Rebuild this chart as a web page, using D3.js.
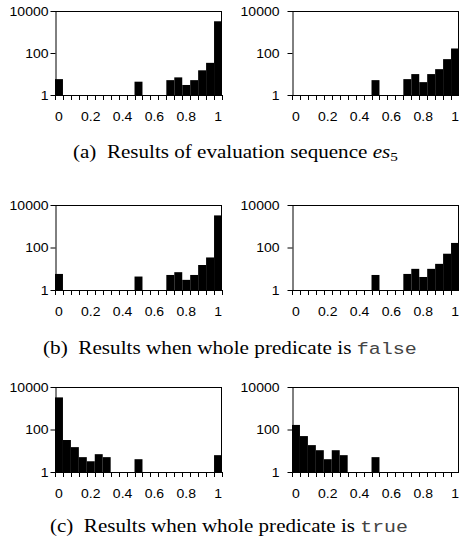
<!DOCTYPE html>
<html lang="en">

<head>
    <meta charset="UTF-8">
    <title>Histograms</title>
    <script src="https://d3js.org/d3.v7.min.js"></script>
</head>
<style>
    body {
        margin: 0;
        background: #fff;
    }

    .tick text {
        font-family: "Liberation Sans", Arial, sans-serif;
        font-size: 12.5px;
        fill: #000;
    }
</style>

<body>
    <svg width="459" height="544"></svg>
    <script>
        // bins of the histograms (0, 0.05, ... 1)
        var bins = d3.range(21).map(function (i) { return i * 0.05; });
        var xLabels = [0, 0.2, 0.4, 0.6, 0.8, 1];
        var yTicks = [1, 100, 10000];

        // counts per bin (0 = nothing drawn)
        var es5Left = [5.7, 0, 0, 0, 0, 0, 0, 0, 0, 0, 4.3, 0, 0, 0, 5.1, 6.9, 3, 5.1, 15, 34, 3240];
        var es5Right = [0, 0, 0, 0, 0, 0, 0, 0, 0, 0, 5.1, 0, 0, 0, 5.7, 9.9, 4.1, 9.9, 17, 51, 164];
        var falseLeft = [5.7, 0, 0, 0, 0, 0, 0, 0, 0, 0, 4.3, 0, 0, 0, 5.1, 6.9, 3, 5.1, 15, 34, 3240];
        var falseRight = [0, 0, 0, 0, 0, 0, 0, 0, 0, 0, 5.1, 0, 0, 0, 5.7, 9.9, 4.1, 9.9, 17, 51, 164];
        var trueLeft = [3240, 32, 14.8, 5, 3.2, 6.9, 5, 0, 0, 0, 4, 0, 0, 0, 0, 0, 0, 0, 0, 0, 6.2];
        var trueRight = [164, 49, 18.4, 10.6, 4, 10.6, 6.2, 0, 0, 0, 5, 0, 0, 0, 0, 0, 0, 0, 0, 0, 0];

        var svg = d3.select("svg");

        // tick labels in the picture are a bit wider than plain Arial
        function widen(sel) {
            sel.each(function () {
                var w = this.getComputedTextLength();
                d3.select(this).attr("textLength", w * 1.12).attr("lengthAdjust", "spacingAndGlyphs");
            });
        }

        // one panel = one histogram with log y axis
        function panel(values, left, right, top, bottom, labelEnd) {
            var x = d3.scaleBand().domain(bins).range([left, right]).padding(0);
            var y = d3.scaleLog().domain([1, 10000]).range([bottom, top]);
            var g = svg.append("g");

            // bars
            g.selectAll("rect")
                .data(values.map(function (v, i) { return { bin: bins[i], v: v }; }).filter(function (d) { return d.v > 1; }))
                .enter().append("rect")
                .attr("x", function (d) { return x(d.bin); })
                .attr("y", function (d) { return y(d.v); })
                .attr("width", x.bandwidth())
                .attr("height", function (d) { return y(1) - y(d.v); })
                .style("fill", "#000");

            // frame top and right
            g.append("line")
                .attr("x1", left).attr("x2", right)
                .attr("y1", top + 0.5).attr("y2", top + 0.5)
                .style("stroke", "#000");
            g.append("line")
                .attr("x1", right - 0.5).attr("x2", right - 0.5)
                .attr("y1", top).attr("y2", bottom)
                .style("stroke", "#000");

            // y axis
            var yAxis = g.append("g")
                .attr("transform", "translate(" + (left + 0.5) + ",0)")
                .call(d3.axisLeft(y).tickValues(yTicks).tickFormat(d3.format("d")).tickSize(5).tickSizeOuter(0));
            yAxis.select(".domain").style("stroke", "#000");
            yAxis.selectAll("text").attr("x", labelEnd - left).call(widen);

            // x axis: baseline, ticks on bin edges, labels every 4th bin
            g.append("line")
                .attr("x1", left).attr("x2", right)
                .attr("y1", bottom + 0.5).attr("y2", bottom + 0.5)
                .style("stroke", "#000");
            var edges = bins.map(function (b) { return x(b); }).concat([right]);
            g.selectAll(".edge")
                .data(edges)
                .enter().append("line")
                .attr("class", "edge")
                .attr("x1", function (d) { return Math.round(d) + 0.5; })
                .attr("x2", function (d) { return Math.round(d) + 0.5; })
                .attr("y1", bottom)
                .attr("y2", bottom + 5)
                .style("stroke", "#000");
            var xAxis = g.append("g")
                .attr("transform", "translate(0," + bottom + ")")
                .call(d3.axisBottom(x).tickValues(xLabels.map(function (l) { return bins[Math.round(l * 20)]; }))
                    .tickFormat(function (d) { return d3.format("")(Math.round(d * 10) / 10); })
                    .tickSize(0).tickPadding(17));
            xAxis.select(".domain").remove();
            xAxis.selectAll("text").call(widen);
        }

        // row positions
        var rows = [
            { top: 11, bottom: 95, left: es5Left, right: es5Right },
            { top: 205, bottom: 290, left: falseLeft, right: falseRight },
            { top: 387, bottom: 472, left: trueLeft, right: trueRight }
        ];
        rows.forEach(function (r) {
            panel(r.left, 55, 222, r.top, r.bottom, 48);
            panel(r.right, 292, 459, r.top, r.bottom, 279);
        });

        // captions, stretched a little to the width they take in the picture
        function caption(xPos, yPos, width) {
            var g = svg.append("g");
            var t = g.append("text")
                .style("font-family", "'Liberation Serif', 'Times New Roman', serif")
                .style("font-size", "18px")
                .style("fill", "#000");
            return { g: g, t: t, fit: function () {
                var w = t.node().getBBox().width;
                g.attr("transform", "translate(" + xPos + "," + yPos + ") scale(" + (width / w) + ",1)");
            } };
        }

        var capA = caption(73, 158, 325);
        capA.t.append("tspan").text("(a)\u00a0\u00a0Results of evaluation sequence ");
        capA.t.append("tspan").text("es").style("font-style", "italic");
        capA.t.append("tspan").text("5").attr("dy", 3).style("font-size", "13px");
        capA.fit();

        var capB = caption(43, 354, 374);
        capB.t.append("tspan").text("(b)\u00a0\u00a0Results when whole predicate is ");
        capB.t.append("tspan").text("false")
            .style("font-family", "'Liberation Mono', 'Courier New', monospace")
            .style("font-size", "17px")
            .style("fill", "#444");
        capB.fit();

        var capC = caption(50, 532, 358);
        capC.t.append("tspan").text("(c)\u00a0\u00a0Results when whole predicate is ");
        capC.t.append("tspan").text("true")
            .style("font-family", "'Liberation Mono', 'Courier New', monospace")
            .style("font-size", "17px")
            .style("fill", "#444");
        capC.fit();
    </script>
</body>

</html>
